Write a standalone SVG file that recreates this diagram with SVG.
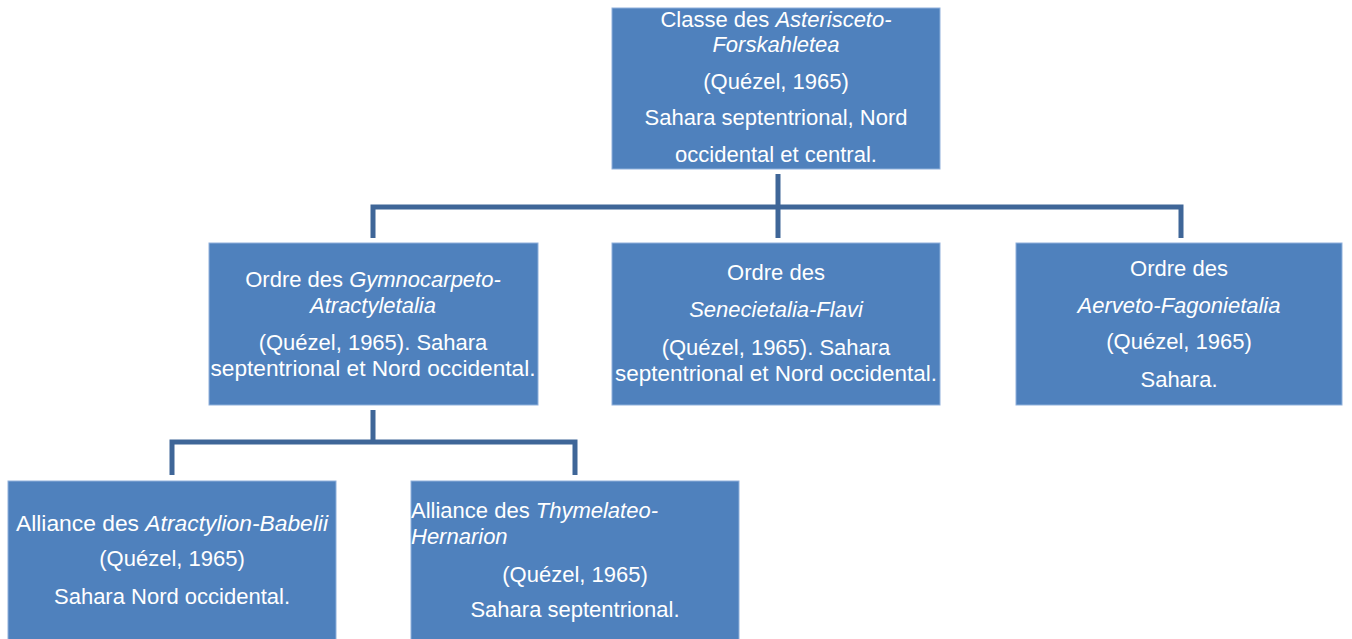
<svg xmlns="http://www.w3.org/2000/svg" width="1352" height="639" viewBox="0 0 1352 639">
<style>
.box{fill:#4f81bd;stroke:#8fb0db;stroke-width:1}
.t{font-family:"Liberation Sans",Arial,sans-serif;font-size:22px;fill:#ffffff;text-anchor:middle}
.l{text-anchor:start}
.i{font-style:italic}
.c{fill:none;stroke:#3f6698;stroke-width:5;stroke-linejoin:miter}
</style>
<rect width="1352" height="639" fill="#ffffff"/>
<g id="connectors">
<path class="c" d="M778 174V207M373 238V207H1181V238M778 207V238"/>
<path class="c" d="M373 410V442M172 475V442H575V475"/>
</g>
<g id="n1">
<rect class="box" x="612" y="8" width="328" height="161"/>
<text class="t" x="776" y="27">Classe des <tspan class="i">Asterisceto-</tspan></text>
<text class="t i" x="776" y="52">Forskahletea</text>
<text class="t" x="776" y="89">(Quézel, 1965)</text>
<text class="t" x="776" y="125">Sahara septentrional, Nord</text>
<text class="t" x="776" y="162">occidental et central.</text>
</g>
<g id="n2">
<rect class="box" x="209" y="243" width="329" height="162"/>
<text class="t" x="373" y="287">Ordre des <tspan class="i">Gymnocarpeto-</tspan></text>
<text class="t i" x="373" y="313">Atractyletalia</text>
<text class="t" x="373" y="350">(Quézel, 1965). Sahara</text>
<text class="t" x="373" y="376" textLength="325" lengthAdjust="spacingAndGlyphs">septentrional et Nord occidental.</text>
</g>
<g id="n3">
<rect class="box" x="612" y="243" width="328" height="162"/>
<text class="t" x="776" y="280">Ordre des</text>
<text class="t i" x="776" y="317">Senecietalia-Flavi</text>
<text class="t" x="776" y="355">(Quézel, 1965). Sahara</text>
<text class="t" x="776" y="381" textLength="322" lengthAdjust="spacingAndGlyphs">septentrional et Nord occidental.</text>
</g>
<g id="n4">
<rect class="box" x="1016" y="243" width="326" height="162"/>
<text class="t" x="1179" y="276">Ordre des</text>
<text class="t i" x="1179" y="313">Aerveto-Fagonietalia</text>
<text class="t" x="1179" y="349">(Quézel, 1965)</text>
<text class="t" x="1179" y="387">Sahara.</text>
</g>
<g id="n5">
<rect class="box" x="8" y="481" width="328" height="162"/>
<text class="t" x="172" y="531" textLength="312" lengthAdjust="spacingAndGlyphs">Alliance des <tspan class="i">Atractylion-Babelii</tspan></text>
<text class="t" x="172" y="566">(Quézel, 1965)</text>
<text class="t" x="172" y="604">Sahara Nord occidental.</text>
</g>
<g id="n6">
<rect class="box" x="411" y="481" width="328" height="162"/>
<text class="t l" x="411" y="518">Alliance des <tspan class="i">Thymelateo-</tspan></text>
<text class="t l i" x="411" y="544">Hernarion</text>
<text class="t" x="575" y="582">(Quézel, 1965)</text>
<text class="t" x="575" y="617">Sahara septentrional.</text>
</g>
</svg>
